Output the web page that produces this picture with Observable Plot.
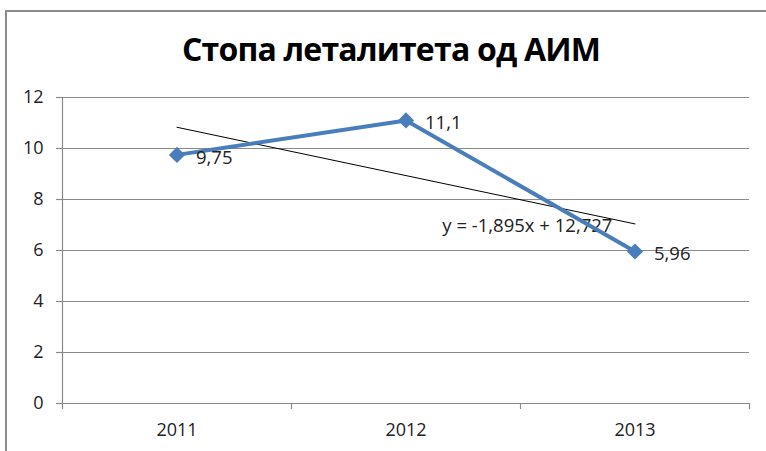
<!DOCTYPE html>
<html>
<head>
<meta charset="utf-8">
<script src="https://cdn.jsdelivr.net/npm/d3@7"></script>
<script src="https://cdn.jsdelivr.net/npm/@observablehq/plot@0.6"></script>
<style>
  html, body { margin: 0; padding: 0; background: #fff; }
  #wrap { position: relative; width: 766px; height: 451px; overflow: hidden; background: #fff; font-family: "Open Sans", sans-serif; }
  #frame { position: absolute; left: 5px; top: 10px; width: 800px; height: 500px; border: 2px solid #8c8c8c; box-sizing: border-box; }
  #title { position: absolute; left: 0; top: 27px; width: 782px; text-align: center; font-size: 32px; font-weight: bold; color: #000; letter-spacing: -0.8px; }
  #chart { position: absolute; left: 0; top: 80px; }
</style>
</head>
<body>
<div id="wrap">
  <div id="frame"></div>
  <div id="title">Стопа леталитета од АИМ</div>
  <div id="chart"></div>
</div>
<script>
const years = ["2011", "2012", "2013"];
const values = [9.75, 11.1, 5.96];
const valueLabels = ["9,75", "11,1", "5,96"];
const yTicks = [0, 2, 4, 6, 8, 10, 12];
const trendSlope = -1.895;
const trendIntercept = 12.727;
const trendLabel = "y = -1,895x + 12,727";

const data = years.map((y, i) => ({ i: i + 1, year: y, value: values[i], label: valueLabels[i] }));
const trend = [1, 3].map(i => ({ i, value: trendIntercept + trendSlope * i }));
const bandEdges = d3.range(0, years.length + 1).map(k => k + 0.5);

const plot = Plot.plot({
  width: 766,
  height: 371,
  marginLeft: 62,
  marginRight: 17,
  marginTop: 17,
  marginBottom: 48,
  style: { fontFamily: "Open Sans, sans-serif", fontSize: "18px", color: "#222", background: "transparent", overflow: "visible" },
  x: { type: "linear", domain: [0.5, years.length + 0.5], axis: null },
  y: { domain: [0, 12], axis: null },
  marks: [
    Plot.ruleY(yTicks, { stroke: "#8a8a8a", strokeWidth: 1.2 }),
    Plot.ruleX([0.5], { stroke: "#8a8a8a", strokeWidth: 1.2 }),
    Plot.axisY({ ticks: yTicks, tickSize: 6, tickFormat: () => "", stroke: "#8a8a8a", strokeOpacity: 1, strokeWidth: 1.2, label: null }),
    Plot.text(yTicks, { x: () => 0.5, y: d => d, text: d => String(d), dx: -19, textAnchor: "end", lineAnchor: "middle", fontSize: 18, fill: "#222" }),
    Plot.axisX({ ticks: bandEdges, tickSize: 6, tickFormat: () => "", stroke: "#8a8a8a", strokeOpacity: 1, strokeWidth: 1.2, label: null }),
    Plot.text(data, { x: "i", y: () => 0, text: "year", dy: 27, lineAnchor: "middle", textAnchor: "middle", fontSize: 18, fill: "#222" }),
    Plot.line(trend, { x: "i", y: "value", stroke: "#000", strokeWidth: 1 }),
    Plot.text([trendLabel], { x: () => 2.53, y: () => 6.94, text: d => d, fontSize: 18.5, fill: "#222", textAnchor: "middle" }),
    Plot.line(data, { x: "i", y: "value", stroke: "#4a7ebb", strokeWidth: 4 }),
    Plot.dot(data, { x: "i", y: "value", symbol: "diamond2", r: 7.3, fill: "#4a7ebb", stroke: "none" }),
    Plot.text(data, { x: "i", y: "value", text: "label", dx: 19, dy: 3, textAnchor: "start", fontSize: 18.5, fill: "#222" })
  ]
});
document.getElementById("chart").appendChild(plot);
</script>
</body>
</html>
